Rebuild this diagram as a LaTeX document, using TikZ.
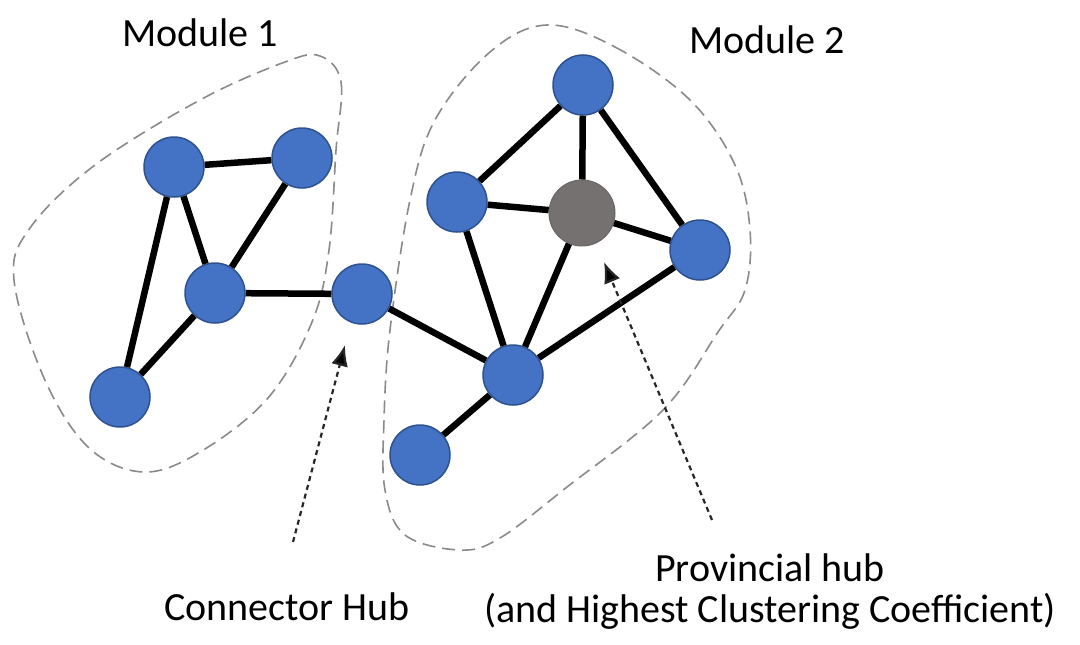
\documentclass[tikz,border=0pt]{standalone}
\usepackage{fontspec}
\setmainfont{Carlito}
\usetikzlibrary{arrows.meta}
\definecolor{nodeblue}{HTML}{4472C4}
\definecolor{nodeedge}{HTML}{2F528F}
\definecolor{hubgray}{HTML}{767171}
\definecolor{outline}{HTML}{8A8A8A}
\tikzset{
  vertex/.style={circle, fill=nodeblue, draw=nodeedge, line width=1.5pt, minimum size=60pt, inner sep=0pt},
  grayhub/.style={circle, fill=hubgray, draw=hubgray!90!black, line width=1pt, minimum size=66pt, inner sep=0pt},
  link/.style={line width=6.5pt, black},
  module/.style={draw=outline, line width=1.6pt, dash pattern=on 13pt off 7pt},
  pointer/.style={line width=2.2pt, black!85, dash pattern=on 5pt off 4pt,
    -{Latex[length=21pt,width=17pt,fill=black]}},
  caption/.style={font=\fontsize{40}{41}\selectfont, text=black, inner sep=0pt, align=center}
}
\begin{document}
\begin{tikzpicture}[x=1pt, y=-1pt]
\useasboundingbox (0,0) rectangle (1080,645);
\fill[white] (0,0) rectangle (1080,645);

% module outlines
\draw[module] plot[smooth cycle, tension=0.6] coordinates {
  (320,56) (341,82) (336,150) (329,250) (312,322) (268,398) (200,452) (143,472)
  (88,447) (44,378) (14,280) (30,228) (95,165) (200,100) (285,62)};
\draw[module] plot[smooth cycle, tension=0.6] coordinates {
  (547,25) (615,47) (690,100) (735,165) (750,230) (745,290) (718,332) (663,410)
  (567,487) (500,538) (460,550) (405,535) (385,490) (384,420) (390,330) (410,200)
  (435,120) (490,52)};

% vertices of module 1
\node[vertex] (a) at (174,167) {};
\node[vertex] (b) at (302,158) {};
\node[vertex] (c) at (215,293) {};
\node[vertex] (d) at (120,397) {};
% connector hub
\node[vertex] (e) at (362,294) {};
% vertices of module 2
\node[vertex] (f) at (583,85) {};
\node[vertex] (g) at (457,202) {};
\node[grayhub] (h) at (582,213) {};
\node[vertex] (i) at (700,250) {};
\node[vertex] (j) at (513,375) {};
\node[vertex] (k) at (420,455) {};

% links
\draw[link] (a) -- (b);
\draw[link] (a) -- (c);
\draw[link] (a) -- (d);
\draw[link] (b) -- (c);
\draw[link] (c) -- (d);
\draw[link] (c) -- (e);
\draw[link] (e) -- (j);
\draw[link] (f) -- (g);
\draw[link] (f) -- (h);
\draw[link] (f) -- (i);
\draw[link] (g) -- (h);
\draw[link] (g) -- (j);
\draw[link] (h) -- (i);
\draw[link] (h) -- (j);
\draw[link] (i) -- (j);
\draw[link] (j) -- (k);

% labels
\node[caption] (m1) at (200,33) {Module 1};
\node[caption] (m2) at (767,40) {Module 2};
\node[caption] (conn) at (287,607) {Connector Hub};
\node[caption] (prov) at (770,592) {Provincial hub\\(and Highest Clustering Coefficient)};

% pointers
\coordinate (connfoot) at (293,542);
\coordinate (conntip) at (345,345);
\coordinate (provfoot) at (712,520);
\coordinate (provtip) at (604,262);
\draw[pointer] (connfoot) -- (conntip);
\draw[pointer] (provfoot) -- (provtip);
\end{tikzpicture}
\end{document}
